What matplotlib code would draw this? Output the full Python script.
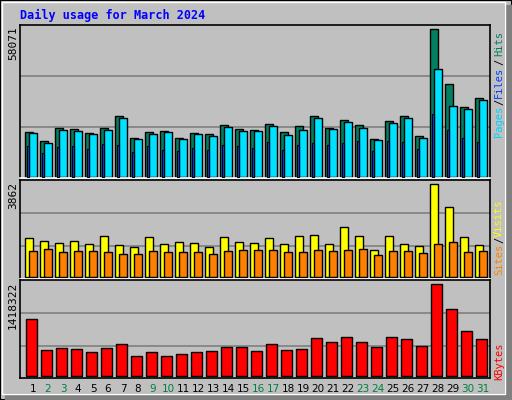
import matplotlib
matplotlib.use("Agg")
import matplotlib.pyplot as plt
from matplotlib.patches import Rectangle

days = list(range(1, 32))
hits = [17540,14010,19230,18720,17150,19230,23820,15190,17540,17930,15190,17150,16760,20290,18720,18330,
        20680,17540,19890,23820,19110,22250,20290,14790,21860,23820,15970,58071,36380,27350,30880]
files = [17150,13220,18330,17930,16760,18330,23030,14790,16760,17540,14790,16760,15970,19500,17930,17930,
         19890,16360,18330,23030,18720,21460,19110,14400,21070,23030,15190,42260,27740,26570,30100]
pages = [12160,9300,11650,12160,10870,12830,12440,9690,12160,10480,10080,11260,10480,12440,12160,11260,
         13620,10480,12440,13220,12440,13220,14010,10080,14010,13620,10870,24600,18330,15190,13620]
visits = [1603,1478,1394,1478,1352,1687,1310,1227,1645,1352,1436,1394,1227,1645,1436,1394,
          1603,1352,1687,1729,1352,2063,1687,1101,1687,1352,1269,3862,2900,1645,1310]
sites = [1059,1143,1018,1059,1059,1018,934,934,1059,1018,1018,1018,934,1059,1101,1101,
         1101,1018,1018,1101,1059,1101,1143,892,1059,1059,976,1352,1436,1018,1059]
kbytes = [874700,393400,424400,408900,362300,424400,486500,300200,362300,300200,331300,362300,377800,440000,440000,377800,
          486500,393400,408900,579700,517600,595200,517600,440000,595200,564200,455500,1418322,1030000,688400,564200]
weekend = [2,3,9,10,16,17,23,24,30,31]

W, H = 512, 400
fig = plt.figure(figsize=(W/100, H/100), dpi=100)
fig.patch.set_facecolor("#c0c0c0")
fig.add_artist(Rectangle((0, 0), 1, 1, transform=fig.transFigure, fill=False, ec="black", lw=1.5))
fig.add_artist(Rectangle((505/W, 0), 7/W, 1-5/H, transform=fig.transFigure, color="#808080"))
fig.add_artist(Rectangle((5/W, 0), 1-5/W, 6/H, transform=fig.transFigure, color="#808080"))
fig.add_artist(Rectangle((2/W, 6/H), 503/W, 1-8/H, transform=fig.transFigure, fill=False, ec="white", lw=1))

def ax_px(x0, y0, x1, y1):
    return fig.add_axes([x0/W, 1-y1/H, (x1-x0)/W, (y1-y0)/H])

XL = (1-13/15, 1-13/15+470/15)
mono = "DejaVu Sans Mono"

def style(ax, ylim, grids):
    ax.set_facecolor("#c0c0c0")
    ax.set_xlim(*XL); ax.set_ylim(*ylim)
    for g in grids:
        ax.axhline(g, color="#808080", lw=1.2, zorder=0)
    ax.set_xticks([]); ax.set_yticks([])
    for s in ax.spines.values():
        s.set_color("black"); s.set_linewidth(1.2)
    ax.spines["bottom"].set_color("white")

bk = dict(edgecolor="black", linewidth=1, align="edge")

ax1 = ax_px(20, 25, 490, 178)
style(ax1, (-392, 59645), [19620, 39630])
ax1.bar([d-0.533 for d in days], hits, width=0.55, color="#008060", **bk)
ax1.bar([d-0.267 for d in days], files, width=0.513, color="#00e0ff", **bk)
ax1.bar([d-0.42 for d in days], pages, width=0.17, color="#0040ff", edgecolor="black",
        linewidth=0.8, align="edge", zorder=3)

ax2 = ax_px(20, 180, 490, 279)
style(ax2, (-96, 4046), [1272, 2653])
ax2.bar([d-0.533 for d in days], visits, width=0.55, color="#ffff00", **bk)
ax2.bar([d-0.267 for d in days], sites, width=0.513, color="#ff8000", **bk)

ax3 = ax_px(20, 280, 490, 378)
style(ax3, (-35690, 1485000), [460900, 968300])
ax3.bar([d-0.467 for d in days], kbytes, width=0.713, color="#ff0000", **bk)
ax3.spines["bottom"].set_color("black")
ax3.set_xticks(days)
ax3.set_xticklabels([str(d) for d in days], fontsize=7.5)
ax3.tick_params(axis="x", length=0, pad=4)
for t, d in zip(ax3.get_xticklabels(), days):
    t.set_color("#008040" if d in weekend else "black")

def ft(x, y, s, **kw):
    fig.text(x/W, 1-y/H, s, **kw)

ft(20, 15, "Daily usage for March 2024", color="#0000ff", fontsize=8.5, fontweight="bold",
   family=mono, va="center", ha="left")
rk = dict(rotation=90, fontsize=8, family=mono, ha="center")
ft(13, 26, "58071", va="top", color="black", **rk)
ft(13, 182, "3862", va="top", color="black", **rk)
ft(13, 282, "1418322", va="top", color="black", **rk)

rr = dict(rotation=90, fontsize=7.5, family=mono, ha="center", va="center")
ft(499, 121, "Pages", color="#00d0ff", **rr)
ft(499, 102, "/", color="black", **rr)
ft(499, 82, "Files", color="#0040ff", **rr)
ft(499, 62, "/", color="black", **rr)
ft(499, 43, "Hits", color="#008060", **rr)
ft(499, 259, "Sites", color="#ff8000", **rr)
ft(499, 240, "/", color="black", **rr)
ft(499, 218, "Visits", color="#ffff00", **rr)
ft(499, 361, "KBytes", color="#ff0000", **rr)

fig.savefig("out.png", dpi=100, facecolor=fig.get_facecolor())
